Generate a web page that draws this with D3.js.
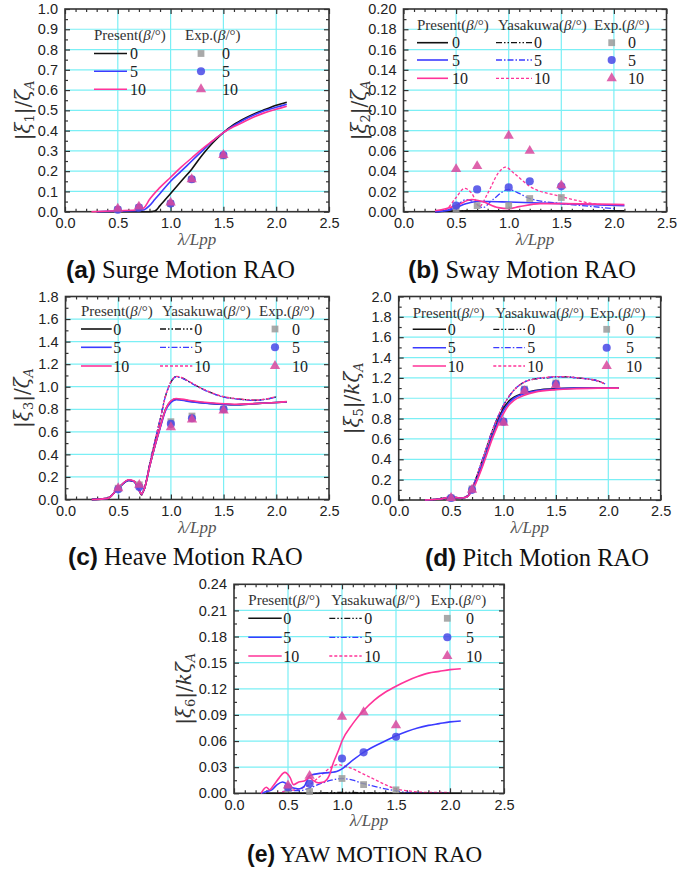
<!DOCTYPE html>
<html>
<head>
<meta charset="utf-8">
<script src="https://cdn.jsdelivr.net/npm/d3@7/dist/d3.min.js"></script>
<style>
  body { margin: 0; background: #fff; }
  svg { display: block; }
</style>
</head>
<body>
<svg id="chart" width="693" height="869"></svg>
<script>

/* ---- data : [lambda/Lpp, value] ---- */

// shared
const headings = ["0", "5", "10"];
const expLambda = [0.5, 0.7, 1.0, 1.2, 1.5];

// (a) surge
const surgePresent0 = [[0.3,0],[0.5,0],[0.7,0],[0.8,0],[0.85,0.003],[0.9,0.03],[1.0,0.09],[1.1,0.15],[1.2,0.21],[1.3,0.28],[1.4,0.34],[1.5,0.39],[1.6,0.43],[1.7,0.46],[1.8,0.485],[1.9,0.505],[2.0,0.525],[2.1,0.54]];
const surgePresent5 = [[0.3,0],[0.5,0.003],[0.7,0.006],[0.75,0.01],[0.8,0.03],[0.85,0.06],[0.9,0.09],[1.0,0.15],[1.1,0.2],[1.2,0.25],[1.3,0.3],[1.4,0.35],[1.5,0.39],[1.6,0.425],[1.7,0.455],[1.8,0.48],[1.9,0.5],[2.0,0.515],[2.1,0.53]];
const surgePresent10 = [[0.25,0],[0.5,0.005],[0.7,0.01],[0.75,0.02],[0.8,0.06],[0.9,0.12],[1.0,0.17],[1.1,0.22],[1.2,0.265],[1.3,0.31],[1.4,0.35],[1.5,0.39],[1.6,0.42],[1.7,0.445],[1.8,0.47],[1.9,0.49],[2.0,0.505],[2.1,0.52]];
const surgeExp0 = [0.01, 0.02, 0.04, 0.16, 0.275];
const surgeExp5 = [0.01, 0.02, 0.04, 0.16, 0.28];
const surgeExp10 = [0.015, 0.025, 0.045, 0.16, 0.28];

// (b) sway
const swayPresent0 = [[0.3,0],[0.6,0.001],[1.0,0.001],[1.5,0.001],[2.1,0.001]];
const swayPresent5 = [[0.3,0],[0.45,0.002],[0.6,0.008],[0.7,0.01],[0.8,0.01],[1.0,0.0095],[1.5,0.008],[2.1,0.006]];
const swayPresent10 = [[0.3,0.001],[0.4,0.003],[0.5,0.006],[0.65,0.012],[0.75,0.01],[0.9,0.004],[1.0,0.003],[1.1,0.005],[1.3,0.008],[1.5,0.008],[2.1,0.007]];
const swayYasa0 = [[0.3,0],[0.6,0.001],[1.0,0.001],[1.5,0.001],[2.0,0.001]];
const swayYasa5 = [[0.3,0],[0.4,0.001],[0.5,0.006],[0.6,0.012],[0.68,0.009],[0.75,0.004],[0.85,0.012],[1.0,0.022],[1.1,0.018],[1.2,0.013],[1.5,0.008],[1.8,0.005],[2.0,0.003]];
const swayYasa10 = [[0.3,0],[0.4,0.002],[0.5,0.014],[0.58,0.023],[0.65,0.018],[0.72,0.005],[0.8,0.018],[0.9,0.038],[0.97,0.044],[1.05,0.038],[1.2,0.025],[1.5,0.015],[1.8,0.008],[2.0,0.006]];
const swayExp0 = [0.003, 0.006, 0.006, 0.013, 0.014];
const swayExp5 = [0.006, 0.022, 0.024, 0.030, 0.025];
const swayExp10 = [0.042, 0.045, 0.075, 0.060, 0.026];

// (c) heave
const heavePresent0 = [[0.25,0],[0.4,0.01],[0.5,0.1],[0.6,0.17],[0.65,0.16],[0.7,0.08],[0.72,0.05],[0.75,0.1],[0.8,0.3],[0.9,0.65],[0.95,0.8],[1.0,0.87],[1.05,0.89],[1.1,0.885],[1.2,0.87],[1.4,0.85],[1.6,0.84],[1.8,0.85],[2.0,0.86],[2.1,0.865]];
const heavePresent5 = [[0.25,0],[0.4,0.01],[0.5,0.1],[0.6,0.17],[0.65,0.16],[0.7,0.08],[0.72,0.05],[0.75,0.1],[0.8,0.3],[0.9,0.64],[0.95,0.79],[1.0,0.86],[1.05,0.885],[1.1,0.88],[1.2,0.865],[1.4,0.85],[1.6,0.84],[1.8,0.85],[2.0,0.86],[2.1,0.865]];
const heavePresent10 = [[0.25,0],[0.4,0.01],[0.5,0.1],[0.6,0.175],[0.65,0.165],[0.7,0.08],[0.72,0.05],[0.75,0.1],[0.8,0.3],[0.9,0.65],[0.95,0.8],[1.0,0.875],[1.05,0.895],[1.1,0.89],[1.2,0.875],[1.4,0.855],[1.6,0.845],[1.8,0.85],[2.0,0.86],[2.1,0.868]];
const heaveYasa0 = [[0.25,0],[0.4,0.01],[0.5,0.1],[0.6,0.17],[0.65,0.16],[0.7,0.08],[0.72,0.04],[0.75,0.1],[0.8,0.32],[0.9,0.72],[0.95,0.92],[1.0,1.04],[1.05,1.09],[1.1,1.08],[1.2,1.03],[1.3,0.98],[1.4,0.94],[1.5,0.91],[1.6,0.895],[1.7,0.885],[1.8,0.88],[1.9,0.89],[2.0,0.91]];
const heaveYasa5 = [[0.25,0],[0.4,0.01],[0.5,0.1],[0.6,0.17],[0.65,0.16],[0.7,0.08],[0.72,0.04],[0.75,0.1],[0.8,0.32],[0.9,0.72],[0.95,0.92],[1.0,1.04],[1.05,1.088],[1.1,1.078],[1.2,1.028],[1.3,0.978],[1.4,0.938],[1.5,0.908],[1.6,0.893],[1.7,0.883],[1.8,0.878],[1.9,0.888],[2.0,0.908]];
const heaveYasa10 = [[0.25,0],[0.4,0.01],[0.5,0.1],[0.6,0.17],[0.65,0.16],[0.7,0.08],[0.72,0.04],[0.75,0.1],[0.8,0.32],[0.9,0.72],[0.95,0.92],[1.0,1.045],[1.05,1.092],[1.1,1.082],[1.2,1.032],[1.3,0.982],[1.4,0.942],[1.5,0.912],[1.6,0.897],[1.7,0.887],[1.8,0.882],[1.9,0.892],[2.0,0.912]];
const heaveExp0 = [0.10, 0.13, 0.69, 0.74, 0.80];
const heaveExp5 = [0.09, 0.11, 0.67, 0.72, 0.80];
const heaveExp10 = [0.10, 0.13, 0.64, 0.71, 0.79];

// (d) pitch
const pitchPresent0 = [[0.25,0],[0.4,0.01],[0.5,0.03],[0.6,0.02],[0.65,0.03],[0.7,0.1],[0.8,0.35],[0.9,0.65],[1.0,0.9],[1.05,0.97],[1.1,1.01],[1.2,1.05],[1.3,1.075],[1.5,1.095],[1.7,1.1],[1.9,1.1],[2.1,1.1]];
const pitchPresent5 = [[0.25,0],[0.4,0.01],[0.5,0.03],[0.6,0.02],[0.65,0.03],[0.7,0.1],[0.8,0.35],[0.9,0.64],[1.0,0.88],[1.05,0.95],[1.1,1.0],[1.2,1.045],[1.3,1.07],[1.5,1.09],[1.7,1.1],[1.9,1.1],[2.1,1.1]];
const pitchPresent10 = [[0.25,0],[0.4,0.01],[0.5,0.03],[0.6,0.02],[0.65,0.03],[0.7,0.09],[0.8,0.33],[0.9,0.62],[1.0,0.85],[1.05,0.93],[1.1,0.98],[1.2,1.03],[1.3,1.06],[1.5,1.085],[1.7,1.095],[1.9,1.1],[2.1,1.1]];
const pitchYasa0 = [[0.25,0],[0.4,0.01],[0.5,0.02],[0.6,0.02],[0.65,0.04],[0.7,0.12],[0.8,0.4],[0.9,0.7],[1.0,0.93],[1.1,1.08],[1.2,1.16],[1.3,1.19],[1.4,1.2],[1.5,1.21],[1.6,1.21],[1.7,1.2],[1.8,1.19],[1.9,1.17],[1.97,1.14]];
const pitchYasa5 = [[0.25,0],[0.4,0.01],[0.5,0.02],[0.6,0.02],[0.65,0.04],[0.7,0.12],[0.8,0.4],[0.9,0.7],[1.0,0.93],[1.1,1.08],[1.2,1.16],[1.3,1.19],[1.4,1.2],[1.5,1.21],[1.6,1.21],[1.7,1.2],[1.8,1.19],[1.9,1.17],[1.97,1.14]];
const pitchYasa10 = [[0.25,0],[0.4,0.01],[0.5,0.02],[0.6,0.02],[0.65,0.04],[0.7,0.12],[0.8,0.4],[0.9,0.7],[1.0,0.93],[1.1,1.08],[1.2,1.16],[1.3,1.19],[1.4,1.205],[1.5,1.212],[1.6,1.212],[1.7,1.202],[1.8,1.19],[1.9,1.17],[1.97,1.14]];
const pitchExp0 = [0.02, 0.11, 0.77, 1.09, 1.15];
const pitchExp5 = [0.02, 0.10, 0.77, 1.08, 1.14];
const pitchExp10 = [0.02, 0.10, 0.76, 1.07, 1.13];

// (e) yaw
const yawPresent0 = [[0.3,0],[0.7,0],[1.0,0],[1.5,0],[2.1,0]];
const yawPresent5 = [[0.25,0],[0.3,0.002],[0.35,0.004],[0.4,0.01],[0.45,0.013],[0.5,0.01],[0.55,0.006],[0.6,0.005],[0.65,0.008],[0.7,0.02],[0.75,0.022],[0.8,0.023],[0.9,0.024],[0.95,0.025],[1.0,0.028],[1.1,0.038],[1.2,0.047],[1.3,0.054],[1.4,0.06],[1.5,0.066],[1.6,0.071],[1.7,0.075],[1.8,0.078],[1.9,0.08],[2.0,0.082],[2.1,0.083]];
const yawPresent10 = [[0.25,0],[0.3,0.007],[0.33,0.004],[0.36,0.008],[0.42,0.018],[0.47,0.024],[0.52,0.018],[0.55,0.01],[0.6,0.013],[0.65,0.014],[0.7,0.018],[0.73,0.015],[0.78,0.012],[0.83,0.013],[0.88,0.02],[0.92,0.035],[0.97,0.05],[1.0,0.06],[1.1,0.08],[1.2,0.095],[1.3,0.107],[1.4,0.116],[1.5,0.123],[1.6,0.129],[1.7,0.134],[1.8,0.138],[1.9,0.14],[2.0,0.142],[2.1,0.143]];
const yawYasa0 = [[0.4,0],[0.7,0],[1.0,0.001],[1.5,0],[2.0,0]];
const yawYasa5 = [[0.45,0.002],[0.5,0.003],[0.6,0.003],[0.7,0.006],[0.8,0.011],[0.9,0.015],[1.0,0.017],[1.1,0.015],[1.2,0.011],[1.3,0.008],[1.4,0.005],[1.5,0.003],[1.6,0.001],[2.0,0]];
const yawYasa10 = [[0.4,0],[0.5,0.003],[0.6,0.005],[0.7,0.01],[0.8,0.02],[0.9,0.03],[0.97,0.033],[1.0,0.032],[1.1,0.028],[1.2,0.022],[1.3,0.016],[1.4,0.01],[1.5,0.005],[1.6,0.003],[1.8,0.001],[2.0,0.001]];
const yawExp0 = [0.005, 0.002, 0.017, 0.010, 0.004];
const yawExp5 = [0.007, 0.011, 0.040, 0.047, 0.065];
const yawExp10 = [0.009, 0.020, 0.088, 0.093, 0.078];


/* ---- styles ---- */
const lineColors = ["#111111", "#3b3bff", "#ff3399"];
const yasaDash = ["6,2,1.5,2,1.5,2", "6,2,1.5,2", "3,2"];
const expColors = ["#9a9a9a", "#4848e6", "#d9489e"];
const expSymbols = [d3.symbolSquare, d3.symbolCircle, d3.symbolTriangle];
const gridColor = "#7beff5";
const frameColor = "#333333";

const svg = d3.select("#chart");


/* y 軸ラベル ( |ξn|/ζA ) */
function yLabel(g, cx, cy, n, withK) {
  const t = g.append("text")
    .attr("transform", `translate(${cx},${cy}) rotate(-90)`)
    .attr("text-anchor", "middle")
    .attr("font-family", "'DejaVu Serif', 'Liberation Serif', serif")
    .attr("font-size", 20)
    .attr("fill", "#333");
  t.append("tspan").text("|");
  t.append("tspan").attr("font-style", "italic").text("ξ");
  t.append("tspan").attr("font-size", 13).attr("dy", 4).text(n);
  t.append("tspan").attr("dy", -4).text("|/");
  if (withK) t.append("tspan").attr("font-style", "italic").text("k");
  t.append("tspan").attr("font-style", "italic").text("ζ");
  t.append("tspan").attr("font-size", 13).attr("font-style", "italic").attr("dy", 4).text("A");
}


/* パネルを描画する */
function drawPanel(p) {

  const g = svg.append("g").attr("class", "panel");

  const x = d3.scaleLinear().domain([0, 2.5]).range([p.x0, p.x1]);
  const y = d3.scaleLinear().domain([0, p.yMax]).range([p.y0, p.y1]);

  const xTicks = d3.range(0, 2.5001, 0.5);
  const xMinor = d3.range(0, 2.5001, 0.1).filter(v => Math.abs(v / 0.5 - Math.round(v / 0.5)) > 1e-6);
  const nY = Math.round(p.yMax / p.yStep);
  const yTicks = d3.range(0, nY + 1).map(i => i * p.yStep);
  const yMinor = d3.range(0, nY).map(i => (i + 0.5) * p.yStep);

  // グリッド
  g.append("g").selectAll("line.vx")
    .data(xTicks.slice(1, -1))
    .join("line")
    .attr("x1", d => x(d)).attr("x2", d => x(d))
    .attr("y1", p.y0).attr("y2", p.y1)
    .attr("stroke", gridColor).attr("stroke-width", 1.2);
  g.append("g").selectAll("line.hy")
    .data(yTicks.slice(1, -1))
    .join("line")
    .attr("x1", p.x0).attr("x2", p.x1)
    .attr("y1", d => y(d)).attr("y2", d => y(d))
    .attr("stroke", gridColor).attr("stroke-width", 1.2);

  // 軸 (目盛りは内向き)
  const styleAxis = sel => {
    sel.select(".domain").remove();
    sel.selectAll(".tick line").attr("stroke", frameColor).attr("stroke-width", 1.2);
    sel.selectAll("text")
      .attr("font-family", "'Liberation Sans', Arial, sans-serif")
      .attr("font-size", 14.5).attr("fill", "#222");
  };
  g.append("g").attr("transform", `translate(0,${p.y0})`)
    .call(d3.axisBottom(x).tickValues(xTicks).tickFormat(d3.format(".1f")).tickSize(-5).tickPadding(6))
    .call(styleAxis);
  g.append("g").attr("transform", `translate(0,${p.y0})`)
    .call(d3.axisBottom(x).tickValues(xMinor).tickFormat("").tickSize(-3))
    .call(styleAxis);
  g.append("g").attr("transform", `translate(0,${p.y1})`)
    .call(d3.axisTop(x).tickValues(xTicks).tickFormat("").tickSize(-5))
    .call(styleAxis);
  g.append("g").attr("transform", `translate(0,${p.y1})`)
    .call(d3.axisTop(x).tickValues(xMinor).tickFormat("").tickSize(-3))
    .call(styleAxis);
  g.append("g").attr("transform", `translate(${p.x0},0)`)
    .call(d3.axisLeft(y).tickValues(yTicks).tickFormat(d3.format(p.yFmt)).tickSize(-5).tickPadding(7))
    .call(styleAxis);
  g.append("g").attr("transform", `translate(${p.x0},0)`)
    .call(d3.axisLeft(y).tickValues(yMinor).tickFormat("").tickSize(-3))
    .call(styleAxis);
  g.append("g").attr("transform", `translate(${p.x1},0)`)
    .call(d3.axisRight(y).tickValues(yTicks).tickFormat("").tickSize(-5))
    .call(styleAxis);
  g.append("g").attr("transform", `translate(${p.x1},0)`)
    .call(d3.axisRight(y).tickValues(yMinor).tickFormat("").tickSize(-3))
    .call(styleAxis);

  // 枠
  g.append("rect")
    .attr("x", p.x0).attr("y", p.y1)
    .attr("width", p.x1 - p.x0).attr("height", p.y0 - p.y1)
    .attr("fill", "none").attr("stroke", frameColor).attr("stroke-width", 1.6);

  // 曲線
  const line = d3.line()
    .x(d => x(d[0])).y(d => y(d[1]))
    .curve(d3.curveMonotoneX);

  if (p.yasa) {
    p.yasa.forEach((s, i) => {
      g.append("path").datum(s)
        .attr("d", line)
        .attr("fill", "none")
        .attr("stroke", lineColors[i]).attr("stroke-width", 1.3)
        .attr("stroke-dasharray", yasaDash[i]);
    });
  }
  p.present.forEach((s, i) => {
    g.append("path").datum(s)
      .attr("d", line)
      .attr("fill", "none")
      .attr("stroke", lineColors[i]).attr("stroke-width", 1.6);
  });

  // 実験値
  p.exp.forEach((vals, i) => {
    g.append("g").selectAll("path")
      .data(vals.map((v, k) => [expLambda[k], v]))
      .join("path")
      .attr("transform", d => `translate(${x(d[0])},${y(d[1])})`)
      .attr("d", d3.symbol().type(expSymbols[i]).size(i === 1 ? 52 : 46))
      .attr("fill", expColors[i]).attr("fill-opacity", 0.85);
  });

  // 軸ラベル
  g.append("text")
    .attr("x", (p.x0 + p.x1) / 2).attr("y", p.y0 + 33)
    .attr("text-anchor", "middle")
    .attr("font-family", "'Liberation Serif', 'DejaVu Serif', serif")
    .attr("font-style", "italic")
    .attr("font-size", 17).attr("fill", "#555")
    .text("λ/Lpp");
  yLabel(g, p.yLabelX, (p.y0 + p.y1) / 2, p.sub, p.withK);

  // レジェンド
  const L = p.legend;
  const serif = "'Liberation Serif', 'Times New Roman', serif";
  const header = (tx, label) => {
    const t = g.append("text")
      .attr("x", tx).attr("y", L.headY)
      .attr("font-family", serif).attr("font-size", 15).attr("fill", "#333");
    t.append("tspan").text(label + "(");
    t.append("tspan").attr("font-style", "italic").text("β");
    t.append("tspan").text("/°)");
  };
  const num = (tx, ry, s) => g.append("text")
    .attr("x", tx).attr("y", ry + 5.5)
    .attr("font-family", serif).attr("font-size", 16).attr("fill", "#222")
    .text(s);

  header(L.pres[0], "Present");
  L.rows.forEach((ry, i) => {
    g.append("line")
      .attr("x1", L.pres[0]).attr("x2", L.pres[1])
      .attr("y1", ry).attr("y2", ry)
      .attr("stroke", lineColors[i]).attr("stroke-width", 1.6);
    num(L.pres[2], ry, headings[i]);
  });
  if (L.yasa) {
    header(L.yasa[0] + 2, "Yasakuwa");
    L.rows.forEach((ry, i) => {
      g.append("line")
        .attr("x1", L.yasa[0]).attr("x2", L.yasa[1])
        .attr("y1", ry).attr("y2", ry)
        .attr("stroke", lineColors[i]).attr("stroke-width", 1.3)
        .attr("stroke-dasharray", yasaDash[i]);
      num(L.yasa[2], ry, headings[i]);
    });
  }
  header(L.exp[0], "Exp.");
  L.rows.forEach((ry, i) => {
    g.append("path")
      .attr("transform", `translate(${L.exp[1]},${ry})`)
      .attr("d", d3.symbol().type(expSymbols[i]).size(i === 1 ? 52 : 46))
      .attr("fill", expColors[i]).attr("fill-opacity", 0.85);
    num(L.exp[2], ry, headings[i]);
  });

  // タイトル
  const tt = g.append("text")
    .attr("x", p.title[0]).attr("y", p.title[1])
    .attr("font-size", p.title[4]).attr("fill", "#111");
  tt.append("tspan")
    .attr("font-family", "'Liberation Sans', Arial, sans-serif")
    .attr("font-weight", "bold")
    .text(p.title[2]);
  tt.append("tspan")
    .attr("font-family", serif)
    .text(" " + p.title[3]);
}


/* パネル定義 */
const panels = [
  {
    x0: 65, x1: 329, y0: 211.7, y1: 9, yMax: 1.0, yStep: 0.1, yFmt: ".1f",
    sub: "1", withK: false, yLabelX: 30,
    present: [surgePresent0, surgePresent5, surgePresent10],
    exp: [surgeExp0, surgeExp5, surgeExp10],
    legend: { headY: 40, rows: [53.5, 71.3, 89.3], pres: [94, 127, 130], exp: [185, 201, 222] },
    title: [66, 278, "(a)", "Surge Motion RAO", 24.5]
  },
  {
    x0: 403.5, x1: 666.5, y0: 211.7, y1: 9, yMax: 0.2, yStep: 0.02, yFmt: ".2f",
    sub: "2", withK: false, yLabelX: 366,
    present: [swayPresent0, swayPresent5, swayPresent10],
    yasa: [swayYasa0, swayYasa5, swayYasa10],
    exp: [swayExp0, swayExp5, swayExp10],
    legend: { headY: 30, rows: [42.7, 60, 78.3], pres: [417, 448, 452], yasa: [496, 532, 534], exp: [594, 611.7, 628] },
    title: [408, 278, "(b)", "Sway Motion RAO", 24.5]
  },
  {
    x0: 65.5, x1: 329, y0: 499.5, y1: 296.5, yMax: 1.8, yStep: 0.2, yFmt: ".1f",
    sub: "3", withK: false, yLabelX: 29,
    present: [heavePresent0, heavePresent5, heavePresent10],
    yasa: [heaveYasa0, heaveYasa5, heaveYasa10],
    exp: [heaveExp0, heaveExp5, heaveExp10],
    legend: { headY: 316, rows: [329, 347.3, 366], pres: [81, 111.7, 113.3], yasa: [160, 192.3, 194.3], exp: [259, 275, 292] },
    title: [68, 565, "(c)", "Heave Motion RAO", 24.5]
  },
  {
    x0: 398.7, x1: 660.7, y0: 500, y1: 296.5, yMax: 2.0, yStep: 0.2, yFmt: ".1f",
    sub: "5", withK: true, yLabelX: 359,
    present: [pitchPresent0, pitchPresent5, pitchPresent10],
    yasa: [pitchYasa0, pitchYasa5, pitchYasa10],
    exp: [pitchExp0, pitchExp5, pitchExp10],
    legend: { headY: 318, rows: [329.3, 347.7, 366], pres: [412.7, 446, 447.7], yasa: [493.3, 525, 527.3], exp: [590, 606.7, 626] },
    title: [425, 566, "(d)", "Pitch Motion RAO", 24.5]
  },
  {
    x0: 234, x1: 504, y0: 793.3, y1: 584.3, yMax: 0.24, yStep: 0.03, yFmt: ".2f",
    sub: "6", withK: true, yLabelX: 191,
    present: [yawPresent0, yawPresent5, yawPresent10],
    yasa: [yawYasa0, yawYasa5, yawYasa10],
    exp: [yawExp0, yawExp5, yawExp10],
    legend: { headY: 605, rows: [618.3, 637.3, 656], pres: [248.3, 281.7, 283.3], yasa: [329.3, 361.7, 364.3], exp: [430.7, 447.3, 466] },
    title: [247, 862, "(e)", "YAW MOTION RAO", 23]
  }
];

panels.forEach(drawPanel);

</script>
</body>
</html>
